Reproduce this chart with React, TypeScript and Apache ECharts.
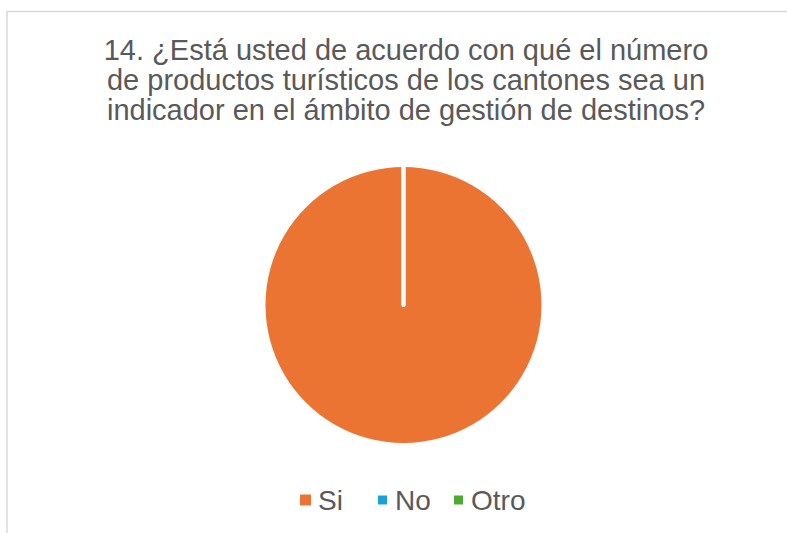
import React, { useEffect, useRef } from "react";
import * as echarts from "echarts";

const titleLines = [
  "14. ¿Está usted de acuerdo con qué el número",
  "de productos turísticos de los cantones sea un",
  "indicador en el ámbito de gestión de destinos?",
];
const categories = ["Si", "No", "Otro"];
const values = [100, 0, 0];
const colors = ["#EC7433", "#18A0DB", "#4DAA31"];
const legendLefts = [295, 371, 447];

export default function App() {
  const ref = useRef<HTMLDivElement>(null);
  useEffect(() => {
    if (!ref.current) return;
    const chart = echarts.init(ref.current, null, { renderer: "svg" });
    const font = "'Liberation Sans', Arial, sans-serif";
    chart.setOption({
      animation: false,
      backgroundColor: "#ffffff",
      title: {
        text: titleLines.join("\n"),
        left: 401,
        top: 30,
        textAlign: "center",
        textStyle: {
          fontFamily: font,
          fontSize: 29,
          fontWeight: "normal",
          lineHeight: 30,
          color: "#595959",
        },
      },
      legend: categories.map((c, i) => ({
        data: [c],
        left: legendLefts[i],
        top: 481,
        icon: "rect",
        itemWidth: 11,
        itemHeight: 11,
        selectedMode: false,
        textStyle: {
          fontFamily: font,
          fontSize: 28,
          color: "#595959",
          padding: [0, 0, 0, 2],
        },
      })),
      graphic: [
        {
          type: "rect",
          shape: { x: 7, y: 11.5, width: 820, height: 600 },
          style: { fill: "none", stroke: "#D9D9D9", lineWidth: 1.5 },
          silent: true,
        },
      ],
      series: [
        {
          type: "pie",
          center: [403.5, 305],
          radius: 138,
          startAngle: 90,
          clockwise: true,
          label: { show: false },
          labelLine: { show: false },
          emphasis: { disabled: true },
          data: categories.map((c, i) => ({
            name: c,
            value: values[i],
            itemStyle: {
              color: colors[i],
              borderColor: "#ffffff",
              borderWidth: i === 0 ? 0 : 4,
            },
          })),
        },
      ],
    });
    return () => chart.dispose();
  }, []);
  return (
    <div
      ref={ref}
      style={{ position: "fixed", left: 0, top: 0, width: 787, height: 533 }}
    />
  );
}
